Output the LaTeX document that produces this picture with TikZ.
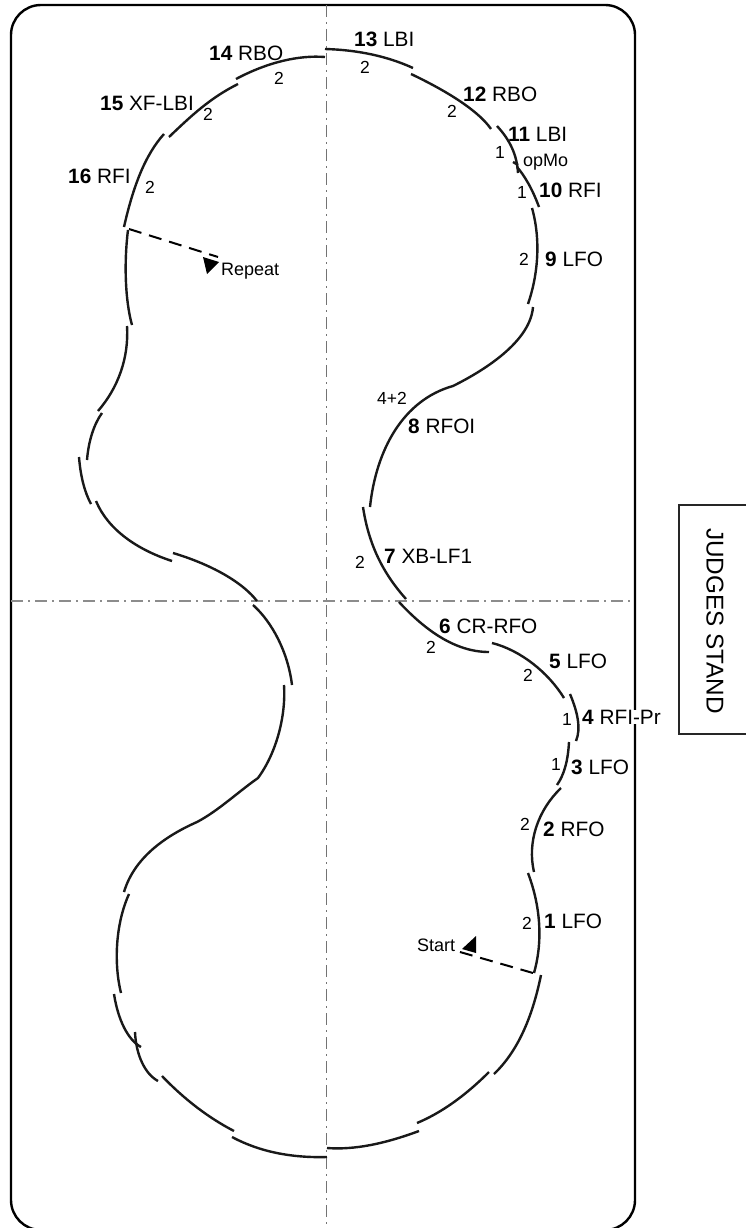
\documentclass[tikz,border=0pt]{standalone}
\usepackage{fontspec}
\setmainfont{Liberation Sans}
\begin{document}
\begin{tikzpicture}[x=1pt,y=-1pt,
  lobe/.style={line width=2.4pt,black!90},
  axis/.style={line width=1.3pt,black!55,dash pattern=on 12pt off 5pt on 2pt off 5pt},
  elem/.style={anchor=base west,inner sep=0pt,font=\fontsize{20.8}{23}\selectfont},
  count/.style={inner sep=0pt,font=\fontsize{17.5}{20}\selectfont},
  note/.style={anchor=base west,inner sep=0pt,font=\fontsize{18}{20}\selectfont},
  lead/.style={line width=2pt,dash pattern=on 13pt off 8pt}]
    \clip (0,0) rectangle (746,1228);
    \draw[line width=2.4pt,rounded corners=30pt] (11,5) rectangle (635,1230);
    \draw[axis] (326.5,5) -- (326.5,1228);
    \draw[axis,line width=1.8pt,black!45] (11,601) -- (632,601);
    \draw[line width=2pt,black!85] (679,505) rectangle (760,734);
    \node[inner sep=0pt,rotate=-90,font=\fontsize{24.3}{28}\selectfont] (stand) at (715,621) {JUDGES STAND};
    \draw[lobe] (528,873) .. controls (542,910) and (542,945) .. (534,973);
    \draw[lobe] (534,872) .. controls (527,842) and (538,810) .. (561,788);
    \draw[lobe] (557,785) .. controls (564,775) and (568,761) .. (569,742);
    \draw[lobe] (576,741) .. controls (581,729) and (578,713) .. (570,694);
    \draw[lobe] (564,698) .. controls (548,672) and (520,650) .. (492,643);
    \draw[lobe] (489,652) .. controls (455,652) and (425,630) .. (399,602);
    \draw[lobe] (406,599) .. controls (380,570) and (368,540) .. (363,507);
    \draw[lobe] (370,507) .. controls (376,450) and (403,400) .. (453,386)
                          .. controls (475,375) and (530,345) .. (533,307);
    \draw[lobe] (532,208) .. controls (541,240) and (538,275) .. (528,304);
    \draw[lobe] (539,207) .. controls (532,188) and (524,175) .. (517,167);
    \draw[lobe] (497,126) .. controls (510,140) and (517,155) .. (518,173);
    \draw[lobe] (513,162) -- (518,165);
    \draw[lobe] (491,129) .. controls (480,113) and (453,94) .. (411,74);
    \draw[lobe] (413,68) .. controls (389,57) and (360,50) .. (325,49);
    \draw[lobe] (325,57) .. controls (299,55) and (268,62) .. (236,79);
    \draw[lobe] (238,84) .. controls (210,98) and (191,116) .. (169,137);
    \draw[lobe] (164,134) .. controls (145,155) and (133,187) .. (124,227);
    \draw[lobe] (128,230) .. controls (124,262) and (125,300) .. (132,325);
    \draw[lobe] (127,326) .. controls (129,358) and (118,388) .. (98,411);
    \draw[lobe] (102,413) .. controls (94,424) and (88.5,441) .. (87,460);
    \draw[lobe] (79,457) .. controls (80.5,476) and (84.5,492) .. (91,504);
    \draw[lobe] (96,501) .. controls (108,530) and (138,550) .. (172,561);
    \draw[lobe] (173,553) .. controls (200,561) and (238,577) .. (257,601);
    \draw[lobe] (253,605) .. controls (272,622) and (288,652) .. (292,685);
    \draw[lobe] (284,685) .. controls (286,715) and (277,752) .. (258,778)
                          .. controls (238,792) and (218,811) .. (197,822)
                          .. controls (170,834) and (135,855) .. (124,892);
    \draw[lobe] (129,894) .. controls (115,925) and (114,965) .. (121,993);
    \draw[lobe] (114,994) .. controls (118,1020) and (128,1040) .. (141,1047);
    \draw[lobe] (135,1032) .. controls (136,1055) and (145,1074) .. (158,1081);
    \draw[lobe] (162,1076) .. controls (185,1100) and (209,1118) .. (234,1131);
    \draw[lobe] (232,1137) .. controls (260,1152) and (292,1158) .. (327,1157);
    \draw[lobe] (327,1148) .. controls (354,1150) and (384,1144) .. (419,1131);
    \draw[lobe] (417,1123) .. controls (441,1113) and (465,1096) .. (489,1072);
    \draw[lobe] (494,1074) .. controls (517,1052) and (532,1019) .. (541,975);
    \node[elem] (e1) at (544,928) {\textbf{1} LFO};
    \node[elem] (e2) at (543,836) {\textbf{2} RFO};
    \node[elem] (e3) at (571,774) {\textbf{3} LFO};
    \node[elem,fill=white] (e4) at (582,724) {\textbf{4} RFI-Pr};
    \node[elem] (e5) at (549,668) {\textbf{5} LFO};
    \node[elem] (e6) at (439,633) {\textbf{6} CR-RFO};
    \node[elem] (e7) at (384,563) {\textbf{7} XB-LF1};
    \node[elem] (e8) at (408,433) {\textbf{8} RFOI};
    \node[elem] (e9) at (545,266) {\textbf{9} LFO};
    \node[elem] (e10) at (539,197) {\textbf{10} RFI};
    \node[elem] (e11) at (508,142) {\textbf{11} LBI};
    \node[elem] (e12) at (463,102) {\textbf{12} RBO};
    \node[elem] (e13) at (354,47) {\textbf{13} LBI};
    \node[elem] (e14) at (209,61) {\textbf{14} RBO};
    \node[elem] (e15) at (100,111) {\textbf{15} XF-LBI};
    \node[elem] (e16) at (68,183) {\textbf{16} RFI};
    \node[count] (c1) at (527,923) {2};
    \node[count] (c2) at (525,824) {2};
    \node[count] (c3) at (556,764) {1};
    \node[count] (c4) at (567,719) {1};
    \node[count] (c5) at (528,675) {2};
    \node[count] (c6) at (431,647) {2};
    \node[count] (c7) at (360,562) {2};
    \node[count] (c8) at (392,398) {4+2};
    \node[count] (c9) at (524,259) {2};
    \node[count] (c10) at (522,192) {1};
    \node[count] (c11) at (500,152) {1};
    \node[count] (c12) at (452,111) {2};
    \node[count] (c13) at (365,67) {2};
    \node[count] (c14) at (279,78) {2};
    \node[count] (c15) at (208,114) {2};
    \node[count] (c16) at (150,187) {2};
    \node[note] (opmo) at (523,166) {opMo};
    \node[note] (start) at (417,951) {Start};
    \node[note] (repeat) at (221,275) {Repeat};
    \coordinate (startfoot) at (533,973);
    \coordinate (starttip) at (460,952);
    \coordinate (repeatfoot) at (129,229);
    \coordinate (repeattip) at (218,257);
    \draw[lead] (startfoot) -- (starttip);
    \draw[lead] (repeatfoot) -- (repeattip);
    \fill (462,949) -- (476,936) -- (476,953) -- cycle;
    \fill (203,257) -- (219,262) -- (207,274) -- cycle;
\end{tikzpicture}
\end{document}
